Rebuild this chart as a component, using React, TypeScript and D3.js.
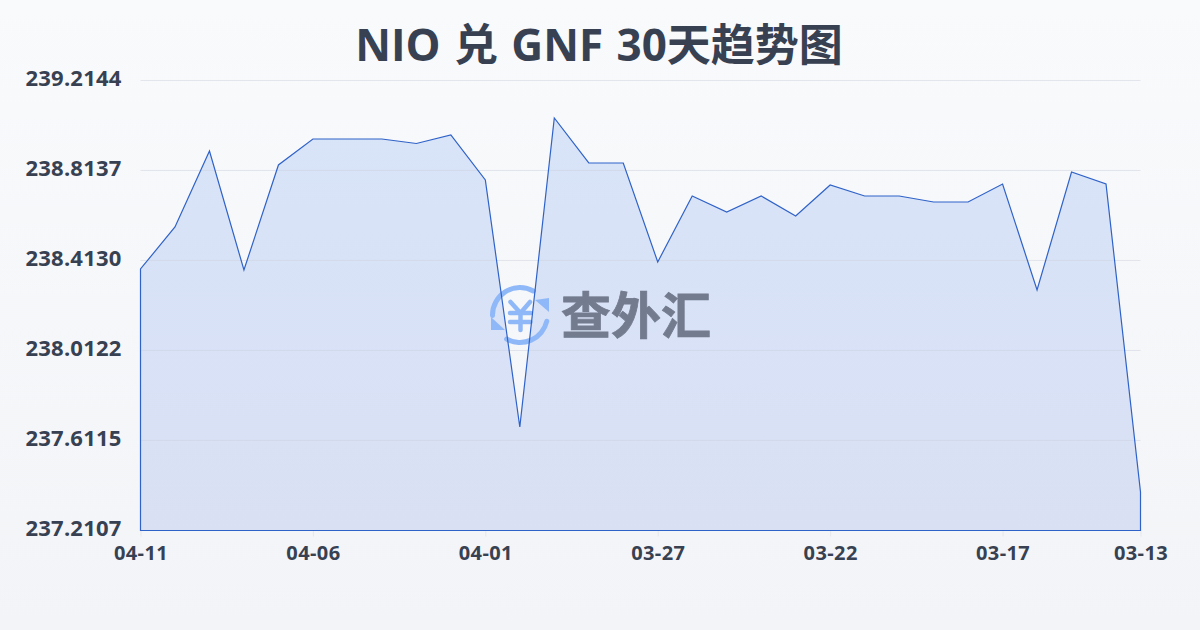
import React, { useEffect, useRef } from 'react';
import * as d3 from 'd3';

const title = 'NIO 兑 GNF 30天趋势图';
const dates = [
	'04-11', '04-10', '04-09', '04-08', '04-07', '04-06', '04-05', '04-04', '04-03', '04-02',
	'04-01', '03-31', '03-30', '03-29', '03-28', '03-27', '03-26', '03-25', '03-24', '03-23',
	'03-22', '03-21', '03-20', '03-19', '03-18', '03-17', '03-16', '03-15', '03-14', '03-13',
];
const rates = [
	238.3751, 238.5621, 238.9005, 238.3706, 238.8382, 238.9539, 238.9539, 238.9539, 238.9339, 238.9717,
	238.7714, 237.6716, 239.0474, 238.8471, 238.8471, 238.4063, 238.7001, 238.6289, 238.7001, 238.6111,
	238.7491, 238.7001, 238.7001, 238.6734, 238.6734, 238.7536, 238.2816, 238.807, 238.7536, 237.3821,
];
const yTicks = [237.2107, 237.6115, 238.0122, 238.413, 238.8137, 239.2144];
const xTicks = ['04-11', '04-06', '04-01', '03-27', '03-22', '03-17', '03-13'];

const width = 1200;
const height = 630;
const margin = { top: 80.5, right: 59.5, bottom: 99.5, left: 140.5 };
const font = '"Open Sans", "Noto Sans CJK SC", sans-serif';

const App: React.FC = () => {
	const ref = useRef<SVGSVGElement>(null);

	useEffect(() => {
		document.body.style.margin = '0';
		const svg = d3.select(ref.current);
		svg.selectAll('*').remove();

		const x = d3.scalePoint<string>().domain(dates).range([margin.left, width - margin.right]);
		const y = d3.scaleLinear().domain([237.2107, 239.2144]).range([height - margin.bottom, margin.top]);

		const defs = svg.append('defs');
		const bg = defs.append('linearGradient').attr('id', 'bg').attr('x1', 0).attr('y1', 0).attr('x2', 0).attr('y2', 1);
		bg.append('stop').attr('offset', '0%').attr('stop-color', '#f9fafc');
		bg.append('stop').attr('offset', '100%').attr('stop-color', '#f3f4f7');
		const fill = defs.append('linearGradient').attr('id', 'fill').attr('x1', 0).attr('y1', 0).attr('x2', 0).attr('y2', 1);
		fill.append('stop').attr('offset', '0%').attr('stop-color', '#d8e4f8');
		fill.append('stop').attr('offset', '100%').attr('stop-color', '#d9e0f4');

		svg.append('rect').attr('width', width).attr('height', height).attr('fill', 'url(#bg)');

		svg.append('text')
			.attr('x', 599)
			.attr('y', 60.5)
			.attr('text-anchor', 'middle')
			.attr('font-family', font)
			.attr('font-size', 44)
			.attr('font-weight', 700)
			.attr('word-spacing', 2)
			.attr('fill', '#374151')
			.text(title);

		// area first, grid sits on top of it
		const area = d3.area<number>()
			.x((d, i) => x(dates[i]) as number)
			.y0(y(237.2107))
			.y1((d) => y(d));
		svg.append('path').attr('d', area(rates)).attr('fill', 'url(#fill)');

		// d3 axes add their own half pixel, so pull them back to stay crisp
		const yAxis = d3.axisLeft(y).tickValues(yTicks).tickSize(-(width - margin.left - margin.right)).tickFormat(d3.format('.4f') as any);
		const gy = svg.append('g').attr('transform', `translate(${margin.left},-0.5)`).call(yAxis as any);
		gy.select('.domain').remove();
		gy.selectAll('line').attr('stroke', '#cdd2df').attr('stroke-opacity', 0.5);
		gy.selectAll('text')
			.attr('x', -19)
			.attr('dy', '0.26em')
			.attr('font-family', font)
			.attr('font-size', 22)
			.attr('font-weight', 700)
			.attr('letter-spacing', 0.2)
			.attr('fill', '#374151');

		const xAxis = d3.axisBottom(x).tickValues(xTicks).tickSize(6);
		const gx = svg.append('g').attr('transform', `translate(0,${height - margin.bottom})`).call(xAxis as any);
		gx.select('.domain').remove();
		gx.selectAll('line').attr('stroke', '#e5e7eb');
		gx.selectAll('text')
			.attr('y', 15.5)
			.attr('dy', '0.71em')
			.attr('font-family', font)
			.attr('font-size', 20)
			.attr('font-weight', 700)
			.attr('letter-spacing', 0.4)
			.attr('fill', '#374151');

		// watermark
		const mark = svg.append('g').attr('transform', 'translate(520,315)');
		const iconBlue = '#8fb8f8';
		const ring = d3.arc().innerRadius(25).outerRadius(30).cornerRadius(2.5);
		[[-1.68, 0.6], [1.71, 3.74]].forEach(([a0, a1]) => {
			mark.append('path')
				.attr('d', ring({ startAngle: a0, endAngle: a1 } as any) as string)
				.attr('fill', iconBlue);
		});
		mark.append('path').attr('d', d3.line()([[15, -15], [29, -17], [29, -3]]) + 'Z').attr('fill', iconBlue);
		mark.append('path').attr('d', d3.line()([[-15, 15], [-29, 15], [-29, 2]]) + 'Z').attr('fill', iconBlue);
		const yen: [number, number][][] = [
			[[-9.5, -13], [0.5, -2], [10, -13]],
			[[-10, -2], [10.5, -2]],
			[[-10, 7], [10.5, 7]],
			[[0.5, -2], [0.5, 15]],
		];
		yen.forEach((seg) => {
			mark.append('path')
				.attr('d', d3.line()(seg) as string)
				.attr('fill', 'none')
				.attr('stroke', iconBlue)
				.attr('stroke-width', 4.5)
				.attr('stroke-linecap', 'round')
				.attr('stroke-linejoin', 'round');
		});
		svg.append('text')
			.attr('x', 636)
			.attr('y', 334)
			.attr('text-anchor', 'middle')
			.attr('font-family', '"Noto Sans CJK SC", sans-serif')
			.attr('font-size', 50)
			.attr('font-weight', 700)
			.attr('fill', '#737c8f')
			.attr('stroke', '#737c8f')
			.attr('stroke-width', 0.8)
			.text('查外汇');

		// outline runs round the whole area, sides and base too
		const pts: [number, number][] = rates.map((d, i) => [x(dates[i]) as number, y(d)]);
		const outline = d3.line()([[margin.left, y(237.2107)], ...pts, [width - margin.right, y(237.2107)]]) + 'Z';
		svg.append('path').attr('d', outline).attr('fill', 'none').attr('stroke', '#2f62c8').attr('stroke-width', 1.2);
	}, []);

	return <svg ref={ref} width={width} height={height} style={{ display: 'block' }} />;
};

export default App;
